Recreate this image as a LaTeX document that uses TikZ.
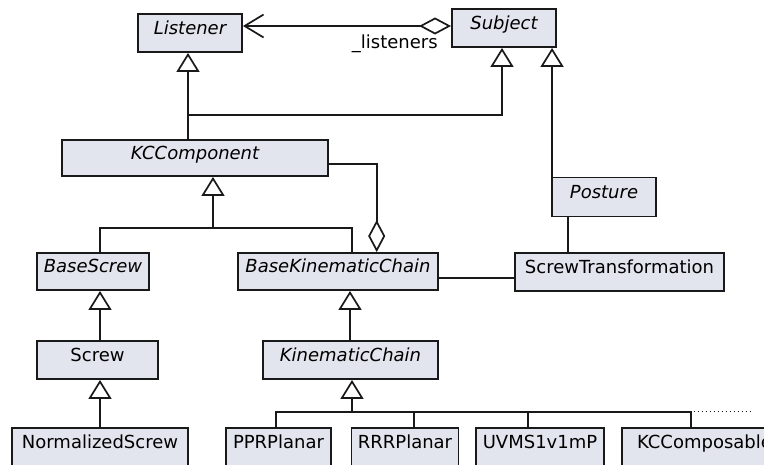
\documentclass[tikz,border=0pt]{standalone}
\usepackage{fontspec}
\setmainfont{DejaVu Sans}
\usetikzlibrary{arrows.meta}
\definecolor{boxfill}{RGB}{227,229,238}
\definecolor{ink}{RGB}{25,25,25}
\begin{document}
\begin{tikzpicture}[x=1pt,y=-1pt,
  cls/.style={draw=ink, line width=1.9pt, fill=boxfill, inner sep=0pt,
    minimum height=38pt, text height=13pt, text depth=10pt,
    font=\fontsize{18}{20}\selectfont},
  abs/.style={cls, font=\fontsize{18}{20}\selectfont\itshape},
  lbl/.style={font=\fontsize{18}{20}\selectfont, inner sep=0pt},
  conn/.style={draw=ink, line width=1.7pt},
  gen/.style={conn, -{Triangle[open, fill=white, width=23pt, length=19pt, line width=1.7pt]}},
  agg/.style={conn, {Diamond[open, fill=white, length=32pt, width=17pt, line width=1.7pt]}-},
  nav/.style={conn, {Straight Barb[length=19pt, width=23pt, line width=1.7pt]}-{Diamond[open, fill=white, length=32pt, width=17pt, line width=1.7pt]}},
  more/.style={draw=ink, line width=1.6pt, dash pattern=on 1.4pt off 2.6pt}
]
\useasboundingbox (0,0) rectangle (764,465);

% classes
\node[abs, minimum width=104pt] (listener) at (190,33) {Listener};
\node[abs, minimum width=104pt] (subject) at (504,28) {Subject};
\node[abs, minimum width=266pt, minimum height=36pt] (kccomp) at (195,158) {KCComponent};
\node[abs, minimum width=112pt, minimum height=37pt] (basescrew) at (93,271.5) {BaseScrew};
\node[abs, minimum width=200pt, minimum height=37pt] (bkc) at (338,271.5) {BaseKinematicChain};
\node[abs, minimum width=104pt, minimum height=39pt] (posture) at (604,197) {Posture};
\node[cls, minimum width=209pt] (st) at (619.5,272) {ScrewTransformation};
\node[cls, minimum width=121pt] (screw) at (97.5,360) {Screw};
\node[abs, minimum width=175pt] (kc) at (350.5,360) {KinematicChain};
\node[cls, minimum width=176pt] (nscrew) at (100,447.3) {NormalizedScrew};
\node[cls, minimum width=105pt] (ppr) at (278.5,447.3) {PPRPlanar};
\node[cls, minimum width=107pt] (rrr) at (405,447.3) {RRRPlanar};
\node[cls, minimum width=128pt] (uvms) at (540,447.3) {UVMS1v1mP};
\node[cls, minimum width=165pt] (kcc) at (704.5,447.3) {KCComposable};

% helper coordinates
\coordinate (j1) at (188,114.7);
\coordinate (j2) at (213,227.7);
\coordinate (xa) at (100,0);
\coordinate (xbk) at (351.7,0);
\coordinate (xb) at (350,0);
\coordinate (xag) at (376.7,0);
\coordinate (bus) at (352,411.7);
\coordinate (xp) at (276,0);
\coordinate (xr) at (414.3,0);
\coordinate (xu) at (527.7,0);
\coordinate (xk) at (690.7,0);
\coordinate (dotend) at (753,411.7);
\coordinate (pj) at ([xshift=1pt]posture.north west);
\coordinate (xst) at (568.3,0);

% association Subject -> Listener
\draw[nav] ([yshift=7pt]listener.east) -- ([yshift=2pt]subject.west)
  node[lbl, pos=0.73, yshift=-18pt] {\_listeners};

% generalizations to Listener and Subject
\draw[gen] (kccomp.north -| j1) -- (listener.south -| j1);
\draw[gen] (j1) -| ([xshift=-2pt]subject.south);
\draw[gen] (pj) -- (pj |- subject.south);

% KCComponent aggregation
\draw[agg] (bkc.north -| xag) |- ([yshift=-6.3pt]kccomp.east);

% generalizations to KCComponent
\draw[gen] (j2) -- (kccomp.south -| j2);
\draw[conn] (basescrew.north -| xa) |- (j2) -| (bkc.north -| xbk);

% associations
\draw[conn] (bkc.east |- 0,277.7) -- (st.west |- 0,277.7);
\draw[conn] (posture.south -| xst) -- (st.north -| xst);

% screw hierarchy
\draw[gen] (screw.north -| xa) -- (basescrew.south -| xa);
\draw[gen] (nscrew.north -| xa) -- (screw.south -| xa);

% kinematic chain hierarchy
\draw[gen] (kc.north -| xb) -- (bkc.south -| xb);
\draw[gen, line width=2.2pt] (bus) -- (kc.south -| bus);
\draw[conn] (ppr.north -| xp) |- (bus) -| (kcc.north -| xk);
\draw[conn] (rrr.north -| xr) -- (bus -| xr);
\draw[conn] (uvms.north -| xu) -- (bus -| xu);
\draw[more] ([xshift=3pt]bus -| xk) -- (dotend);
\end{tikzpicture}
\end{document}
